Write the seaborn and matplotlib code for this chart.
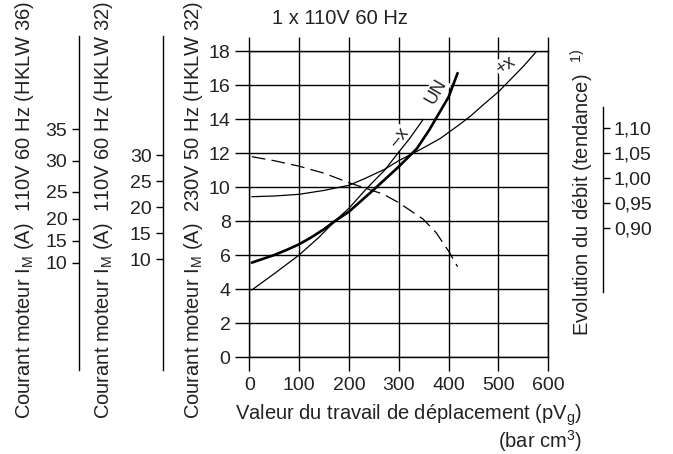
import numpy as np
import pandas as pd
import matplotlib
matplotlib.use("Agg")
import matplotlib.pyplot as plt
import seaborn as sns

# ---------------- data ----------------
x_minus = [5, 50, 100, 140, 172, 200, 232, 250, 272, 300, 322, 349]
y_minus = [3.94, 4.9, 6.0, 7.05, 8.0, 8.75, 9.8, 10.35, 11.0, 12.06, 12.86, 13.98]

x_un = [5, 25, 50, 75, 100, 125, 150, 172, 200, 250, 300, 336, 361, 373, 400, 418]
y_un = [5.55, 5.75, 6.0, 6.3, 6.63, 7.05, 7.52, 8.0, 8.55, 9.85, 11.2, 12.25, 13.35, 13.95, 15.3, 16.7]

x_plus = [5, 50, 100, 150, 200, 232, 272, 300, 343, 383, 423, 443, 470, 500, 550, 583]
y_plus = [9.43, 9.47, 9.57, 9.8, 10.1, 10.5, 11.05, 11.55, 12.2, 12.85, 13.7, 14.15, 14.85, 15.6, 17.1, 18.2]

x_flow = [5, 50, 100, 150, 200, 269, 300, 349, 375, 400, 418]
flow = [1.042, 1.034, 1.023, 1.009, 0.990, 0.967, 0.950, 0.917, 0.890, 0.853, 0.822]

x_ticks = [0, 100, 200, 300, 400, 500, 600]
y_ticks = [0, 2, 4, 6, 8, 10, 12, 14, 16, 18]
flow_ticks = [0.90, 0.95, 1.00, 1.05, 1.10]
hklw32_ticks = [10, 15, 20, 25, 30]
hklw36_ticks = [10, 15, 20, 25, 30, 35]
# HKLW 36 scale is not linear: equivalent positions on the 230V scale
hklw36_equiv = [5.55, 6.84, 8.12, 9.72, 11.55, 13.39]

# ---------------- style ----------------
sns.set_style("white")
plt.rcParams["font.family"] = ["Liberation Sans", "DejaVu Sans"]
plt.rcParams["mathtext.fontset"] = "custom"
plt.rcParams["mathtext.rm"] = "Liberation Sans"
plt.rcParams["mathtext.it"] = "Liberation Sans:italic"
plt.rcParams["mathtext.bf"] = "Liberation Sans:bold"

TXT = "#222222"
W, H = 673, 454
fig = plt.figure(figsize=(W / 100, H / 100), dpi=100)

# main axes (pixel geometry of the reference)
L, R, T, B = 249.3, 548.3, 51.0, 357.0
ax = fig.add_axes([L / W, 1 - B / H, (R - L) / W, (B - T) / H])
ax.set_xlim(0, 600)
ax.set_ylim(0, 18)
ax.set_xticks(x_ticks)
ax.set_yticks(y_ticks)
ax.grid(True, color="black", lw=1.0)
ax.set_axisbelow(True)
for s in ax.spines.values():
    s.set_color("black")
    s.set_linewidth(1.0)
ax.tick_params(axis="both", direction="out", color="black", width=1.0,
               labelsize=14, labelcolor=TXT)
ax.tick_params(axis="y", length=10, pad=3.5, left=True)
ax.tick_params(axis="x", length=10, pad=4.5, bottom=True, top=True, labeltop=False)

sns.lineplot(x=x_minus, y=y_minus, ax=ax, color="black", lw=0.9)
sns.lineplot(x=x_un, y=y_un, ax=ax, color="black", lw=1.9)
sns.lineplot(x=x_plus, y=y_plus, ax=ax, color="black", lw=0.9)

box = dict(facecolor="white", edgecolor="none", pad=0.6)
ax.text(375, 15.6, "UN", rotation=60, ha="center", va="center", fontsize=13,
        color=TXT, bbox=box, zorder=1.8)
ax.text(301, 12.9, "–x", rotation=50, ha="center", va="center", fontsize=13,
        color=TXT, bbox=box, zorder=1.8)
ax.text(515, 17.15, "+x", rotation=35, ha="center", va="center", fontsize=13,
        color=TXT, bbox=box, zorder=1.8)

# right axis: flow trend
axf = ax.twinx()
axf.set_ylim(0.6414, 1.2534)
for k in ["left", "top", "bottom"]:
    axf.spines[k].set_visible(False)
axf.spines["right"].set_position(("outward", 39.2))
axf.spines["right"].set_bounds(0.7714, 1.1414)
axf.spines["right"].set_color("black")
axf.spines["right"].set_linewidth(1.0)
axf.set_yticks(flow_ticks)
axf.set_yticklabels([f"{v:.2f}".replace(".", ",") for v in flow_ticks])
axf.tick_params(axis="y", direction="out", length=5, width=1.0, color="black",
                labelsize=14, labelcolor=TXT, pad=3, right=True)
sns.lineplot(x=x_flow, y=flow, ax=axf, color="black", lw=0.9, dashes=False)
axf.lines[-1].set_dashes((11, 5))
axf.set_xlim(0, 600)
axf.set_ylabel("")

# left extra axis: 110V 60 Hz HKLW 32 (linear)
a32 = ax.twinx()
a32.set_ylim(-8.79, 50.06)
for k in ["right", "top", "bottom"]:
    a32.spines[k].set_visible(False)
a32.spines["left"].set_visible(True)
a32.spines["left"].set_position(("outward", 61.9))
a32.spines["left"].set_bounds(-11.29, 52.94)
a32.spines["left"].set_color("black")
a32.spines["left"].set_linewidth(1.0)
a32.yaxis.set_ticks_position("left")
a32.set_yticks(hklw32_ticks)
a32.tick_params(axis="y", direction="out", length=5, width=1.0, color="black",
                labelsize=14, labelcolor=TXT, pad=3.5)

# left extra axis: 110V 60 Hz HKLW 36 (non-linear)
a36 = ax.twinx()
a36.set_ylim(0, 18)
for k in ["right", "top", "bottom"]:
    a36.spines[k].set_visible(False)
a36.spines["left"].set_visible(True)
a36.spines["left"].set_position(("outward", 122.5))
a36.spines["left"].set_bounds(-0.76, 18.88)
a36.spines["left"].set_color("black")
a36.spines["left"].set_linewidth(1.0)
a36.yaxis.set_ticks_position("left")
a36.set_yticks(hklw36_equiv)
a36.set_yticklabels([str(v) for v in hklw36_ticks])
a36.tick_params(axis="y", direction="out", length=5, width=1.0, color="black",
                labelsize=14, labelcolor=TXT, pad=3.5)

# texts
FS = 14.5
fig.text(340 / W, 1 - 18 / H, "1 x 110V 60 Hz", ha="center", va="center",
         fontsize=FS, color=TXT)
fig.text(25 / W, 1 - 210 / H, r"Courant moteur I$_\mathrm{M}$ (A)  110V 60 Hz (HKLW 36)",
         rotation=90, ha="center", va="center", fontsize=FS, color=TXT)
fig.text(104 / W, 1 - 210 / H, r"Courant moteur I$_\mathrm{M}$ (A)  110V 60 Hz (HKLW 32)",
         rotation=90, ha="center", va="center", fontsize=FS, color=TXT)
fig.text(194 / W, 1 - 210 / H, r"Courant moteur I$_\mathrm{M}$ (A)  230V 50 Hz (HKLW 32)",
         rotation=90, ha="center", va="center", fontsize=FS, color=TXT)
fig.text(582 / W, 1 - 193 / H, r"Evolution du débit (tendance)  $^{1)}$",
         rotation=90, ha="center", va="center", fontsize=FS, color=TXT)
fig.text(582 / W, 1 - 420 / H, r"Valeur du travail de déplacement (pV$_\mathrm{g}$)",
         ha="right", va="baseline", fontsize=FS, color=TXT)
fig.text(582 / W, 1 - 447.5 / H, r"(bar cm$^3$)",
         ha="right", va="baseline", fontsize=FS, color=TXT)

fig.savefig("out.png", dpi=100)
